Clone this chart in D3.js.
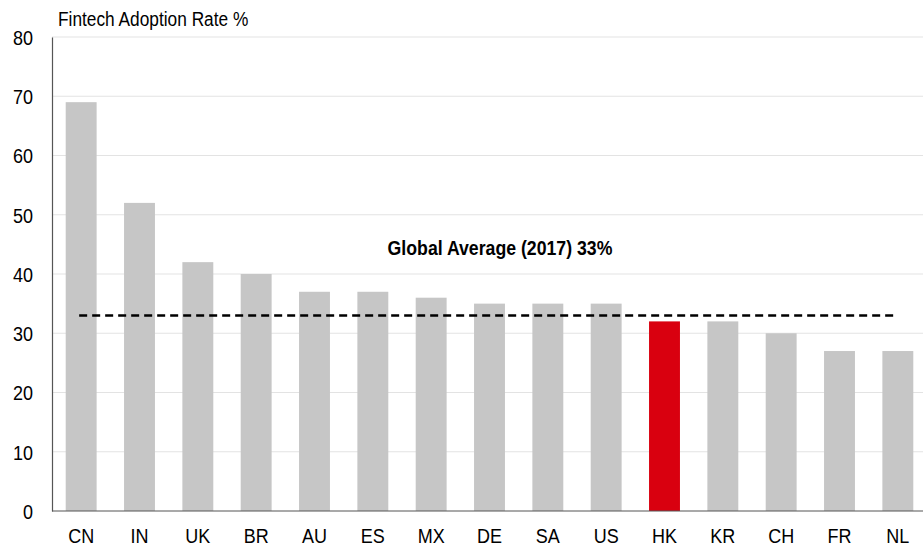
<!DOCTYPE html>
<html>
<head>
<meta charset="utf-8">
<script src="https://cdn.jsdelivr.net/npm/d3@7"></script>
<style>
  html, body { margin: 0; padding: 0; background: #fff; }
  svg { display: block; }
  text { font-family: "Liberation Sans", Arial, sans-serif; fill: #000; }
</style>
</head>
<body>
<svg id="chart" width="923" height="546"></svg>
<script>
// Fintech adoption rate by market, with the 2017 global average
const countries = ["CN", "IN", "UK", "BR", "AU", "ES", "MX", "DE", "SA", "US", "HK", "KR", "CH", "FR", "NL"];
const adoptionRates = [69, 52, 42, 40, 37, 37, 36, 35, 35, 35, 32, 32, 30, 27, 27];
const highlighted = ["HK"];
const globalAverage = 33;
const averageLabel = "Global Average (2017) 33%";
const yTicks = [0, 10, 20, 30, 40, 50, 60, 70, 80];
const axisTitle = "Fintech Adoption Rate %";

const W = 923, H = 546;
const plotLeft = 52, plotTop = 37, plotBottom = 511, bandEnd = 927;
const stretch = 1.12; // glyphs are drawn slightly taller than wide

const svg = d3.select("#chart");

const x = d3.scaleBand()
  .domain(countries)
  .range([plotLeft, bandEnd])
  .paddingInner(0.47)
  .paddingOuter(0.235);

const y = d3.scaleLinear().domain([0, 80]).range([plotBottom, plotTop]);

// horizontal gridlines
svg.append("g")
  .selectAll("line")
  .data(yTicks.filter(t => t > 0))
  .join("line")
  .attr("x1", plotLeft).attr("x2", W)
  .attr("y1", d => y(d)).attr("y2", d => y(d))
  .attr("stroke", "#e3e3e3")
  .attr("stroke-width", 1);

// bars
svg.append("g")
  .selectAll("rect")
  .data(countries.map((c, i) => ({ c, v: adoptionRates[i] })))
  .join("rect")
  .attr("x", d => x(d.c))
  .attr("width", x.bandwidth())
  .attr("y", d => y(d.v))
  .attr("height", d => y(0) - y(d.v))
  .attr("fill", d => highlighted.includes(d.c) ? "#d9000f" : "#c6c6c6");

// y axis
const yAxis = d3.axisLeft(y).tickValues(yTicks).tickSize(0).tickPadding(19).tickFormat(d3.format("d"));
const gy = svg.append("g").attr("transform", `translate(${plotLeft},0)`).call(yAxis);
gy.select(".domain").attr("stroke", "#555").attr("stroke-width", 1.2);
gy.selectAll("text")
  .attr("font-size", 18)
  .attr("font-family", "Liberation Sans, Arial, sans-serif")
  .attr("fill", "#000")
  .attr("dy", null)
  .attr("y", 0)
  .attr("transform", `scale(1,${stretch}) translate(0,${0.36 * 18})`);

// x axis
const xAxis = d3.axisBottom(x).tickSize(0);
const gx = svg.append("g").attr("transform", `translate(0,${plotBottom})`).call(xAxis);
gx.select(".domain").attr("d", `M${plotLeft},0H${W}`).attr("stroke", "#555").attr("stroke-width", 1.2);
gx.selectAll("text")
  .attr("font-size", 18)
  .attr("font-family", "Liberation Sans, Arial, sans-serif")
  .attr("fill", "#000")
  .attr("dy", null)
  .attr("y", 0)
  .attr("transform", `translate(0,32) scale(1,${stretch})`);

// global average line
const first = countries[0], last = countries[countries.length - 1];
svg.append("line")
  .attr("x1", x(first) + x.bandwidth() / 2 - 2)
  .attr("x2", x(last) + x.bandwidth() / 2 - 2)
  .attr("y1", y(globalAverage)).attr("y2", y(globalAverage))
  .attr("stroke", "#000")
  .attr("stroke-width", 2.5)
  .attr("stroke-dasharray", "8,5");

svg.append("text")
  .attr("transform", `translate(500,255) scale(1,${stretch})`)
  .attr("text-anchor", "middle")
  .attr("font-size", 17.7)
  .attr("font-weight", "bold")
  .text(averageLabel);

// axis title
svg.append("text")
  .attr("transform", `translate(58,26) scale(1,${stretch})`)
  .attr("font-size", 17.3)
  .text(axisTitle);
</script>
</body>
</html>
